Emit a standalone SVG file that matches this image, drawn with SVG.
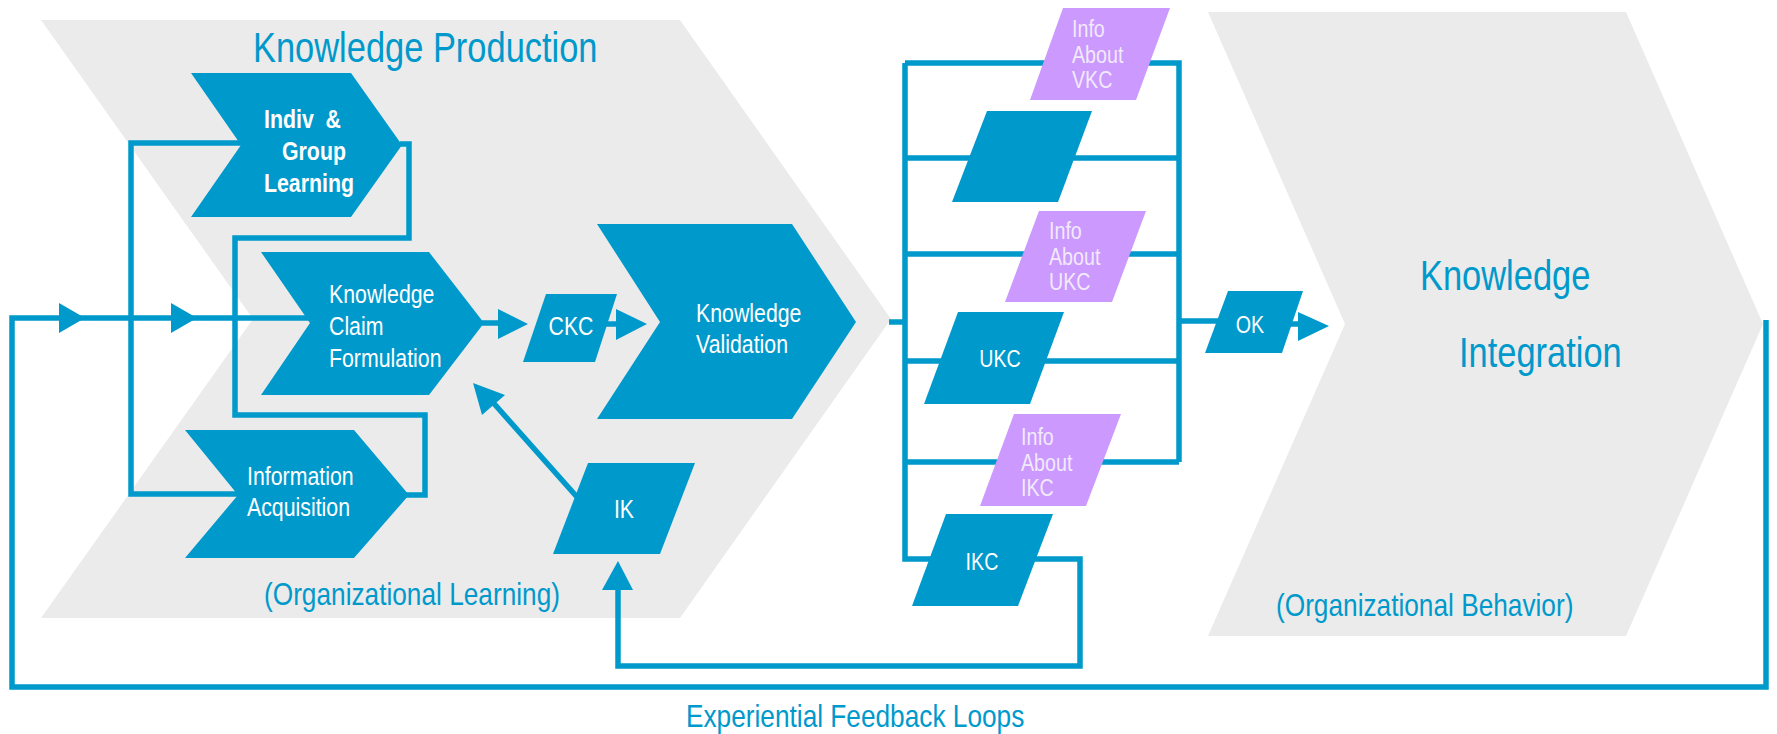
<svg xmlns="http://www.w3.org/2000/svg" width="1777" height="734" viewBox="0 0 1777 734">
  <style>
    .stage { fill: #EBEBEB; }
    .blue { fill: #0099CC; }
    .purple { fill: #CC99FF; }
    .wire { fill: none; stroke: #0099CC; stroke-width: 5.5; stroke-linejoin: miter; }
    .arrow { fill: #0099CC; }
    /* condensed sans: regular face squeezed horizontally via each text's transform */
    text { font-family: "Liberation Sans", Arial, sans-serif; }
    .title { fill: #0099CC; font-size: 42px; }
    .sub { fill: #0099CC; font-size: 32px; }
    .lbl { fill: #FFFFFF; font-size: 26px; }
    .lblb { fill: #FFFFFF; font-size: 26px; font-weight: bold; }
    .small { fill: #FFFFFF; font-size: 24px; }
    .info { fill: #F1EAFB; font-size: 24px; }
    .mid { text-anchor: middle; }
  </style>

  <!-- background stages -->
  <g id="knowledge-production">
    <path class="stage" d="M41,20 L680,20 L891,319 L680,618 L41,618 L253,319 Z"/>
    <text class="title" transform="translate(253 62) scale(0.82 1)">Knowledge Production</text>
    <text class="sub" transform="translate(264 605) scale(0.82 1)">(Organizational Learning)</text>
  </g>
  <g id="knowledge-integration">
    <path class="stage" d="M1208,12 L1626,12 L1763,324 L1626,636 L1208,636 L1345,324 Z"/>
    <text class="title" transform="translate(1420 290) scale(0.82 1)">Knowledge</text>
    <text class="title" transform="translate(1459 367) scale(0.82 1)">Integration</text>
    <text class="sub" transform="translate(1276 616) scale(0.82 1)">(Organizational Behavior)</text>
  </g>

  <!-- connectors -->
  <g id="connectors">
    <!-- outer experiential feedback loop -->
    <path class="wire" d="M1766,320 V687 H12 V318 H310"/>
    <polygon class="arrow" points="59,303 85,318 59,333"/>
    <polygon class="arrow" points="171,303 197,318 171,333"/>
    <!-- learning sub-loops -->
    <path class="wire" d="M241,143 H131 V494 H238"/>
    <path class="wire" d="M400,144 H409 V238 H235 V415 H425 V495 H405"/>
    <!-- KCF to CKC to validation -->
    <path class="wire" d="M482,323 H500"/>
    <polygon class="arrow" points="498,309 528,324 498,339"/>
    <path class="wire" d="M605,324 H618"/>
    <polygon class="arrow" points="616,309 647,324 616,340"/>
    <!-- IK back to claim formulation -->
    <path class="wire" d="M577,497 L490,399"/>
    <polygon class="arrow" points="473,383 505,395 482,415"/>
    <!-- validation outputs -->
    <path class="wire" d="M889,322 H905"/>
    <path class="wire" d="M905,63 V559 H1080 V666 H618 V588"/>
    <polygon class="arrow" points="602,590 618,561 633,590"/>
    <path class="wire" d="M905,63 H1179 V462"/>
    <path class="wire" d="M905,158 H1179"/>
    <path class="wire" d="M905,254 H1179"/>
    <path class="wire" d="M905,361 H1179"/>
    <path class="wire" d="M905,462 H1179"/>
    <path class="wire" d="M1179,321 H1230"/>
    <path class="wire" d="M1285,324 H1300"/>
    <polygon class="arrow" points="1298,312 1329,326 1298,341"/>
  </g>

  <g id="indiv-group-learning">
    <path class="blue" d="M191,73 L351,73 L402,145 L351,217 L191,217 L241,145 Z"/>
    <text class="lblb" transform="translate(264 128) scale(0.82 1)" xml:space="preserve">Indiv  &amp;</text>
    <text class="lblb" transform="translate(282 160) scale(0.82 1)">Group</text>
    <text class="lblb" transform="translate(264 192) scale(0.82 1)">Learning</text>
  </g>
  <g id="knowledge-claim-formulation">
    <path class="blue" d="M261,252 L429,252 L484,323 L429,395 L261,395 L310,323 Z"/>
    <text class="lbl" transform="translate(329 303) scale(0.82 1)">Knowledge</text>
    <text class="lbl" transform="translate(329 335) scale(0.82 1)">Claim</text>
    <text class="lbl" transform="translate(329 367) scale(0.82 1)">Formulation</text>
  </g>
  <g id="information-acquisition">
    <path class="blue" d="M185,430 L354,430 L409,495 L354,558 L185,558 L238,495 Z"/>
    <text class="lbl" transform="translate(247 485) scale(0.82 1)">Information</text>
    <text class="lbl" transform="translate(247 516) scale(0.82 1)">Acquisition</text>
  </g>
  <g id="ckc">
    <path class="blue" d="M546,294 L617,294 L595,362 L523,362 Z"/>
    <text class="lbl mid" transform="translate(571 335) scale(0.82 1)">CKC</text>
  </g>
  <g id="knowledge-validation">
    <path class="blue" d="M597,224 L792,224 L856,322 L792,419 L597,419 L660,322 Z"/>
    <text class="lbl" transform="translate(696 322) scale(0.82 1)">Knowledge</text>
    <text class="lbl" transform="translate(696 353) scale(0.82 1)">Validation</text>
  </g>
  <g id="ik">
    <path class="blue" d="M588,463 L695,463 L660,554 L553,554 Z"/>
    <text class="lbl mid" transform="translate(624 518) scale(0.82 1)">IK</text>
  </g>
  <g id="info-about-vkc">
    <path class="purple" d="M1063,8 L1170,8 L1136,100 L1030,100 Z"/>
    <text class="info" transform="translate(1072 37) scale(0.82 1)">Info</text>
    <text class="info" transform="translate(1072 63) scale(0.82 1)">About</text>
    <text class="info" transform="translate(1072 88) scale(0.82 1)">VKC</text>
  </g>
  <g id="vkc">
    <path class="blue" d="M987,111 L1092,111 L1058,202 L952,202 Z"/>
  </g>
  <g id="info-about-ukc">
    <path class="purple" d="M1039,211 L1146,211 L1112,302 L1005,302 Z"/>
    <text class="info" transform="translate(1049 239) scale(0.82 1)">Info</text>
    <text class="info" transform="translate(1049 265) scale(0.82 1)">About</text>
    <text class="info" transform="translate(1049 290) scale(0.82 1)">UKC</text>
  </g>
  <g id="ukc">
    <path class="blue" d="M958,312 L1064,312 L1030,404 L924,404 Z"/>
    <text class="small mid" transform="translate(1000 367) scale(0.82 1)">UKC</text>
  </g>
  <g id="info-about-ikc">
    <path class="purple" d="M1014,414 L1121,414 L1086,506 L980,506 Z"/>
    <text class="info" transform="translate(1021 445) scale(0.82 1)">Info</text>
    <text class="info" transform="translate(1021 471) scale(0.82 1)">About</text>
    <text class="info" transform="translate(1021 496) scale(0.82 1)">IKC</text>
  </g>
  <g id="ikc">
    <path class="blue" d="M946,514 L1053,514 L1018,606 L912,606 Z"/>
    <text class="small mid" transform="translate(982 570) scale(0.82 1)">IKC</text>
  </g>
  <g id="ok">
    <path class="blue" d="M1228,291 L1303,291 L1282,353 L1205,353 Z"/>
    <text class="small mid" transform="translate(1250 333) scale(0.82 1)">OK</text>
  </g>

  <text class="sub" transform="translate(686 727) scale(0.82 1)">Experiential Feedback Loops</text>
</svg>
